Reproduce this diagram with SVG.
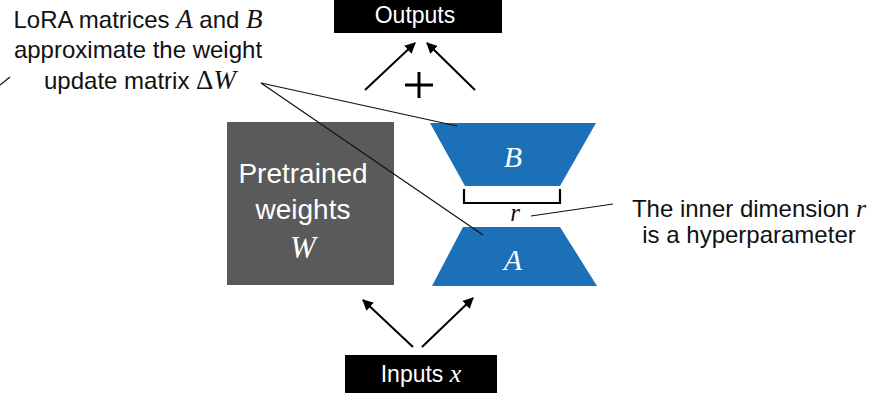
<svg xmlns="http://www.w3.org/2000/svg" width="889" height="398" viewBox="0 0 889 398">
<defs>
<marker id="ah" viewBox="0 0 10 10" refX="9" refY="5" markerWidth="11" markerHeight="11" markerUnits="userSpaceOnUse" orient="auto">
<path d="M0,0 L10,5 L0,10 z" fill="#000"/>
</marker>
<style>
.lbl{font-family:"Liberation Sans",Arial,sans-serif;font-size:24px;fill:#111;text-anchor:middle}
.wht{font-family:"Liberation Sans",Arial,sans-serif;fill:#fff;text-anchor:middle}
.math{font-family:"Liberation Serif","Times New Roman",serif;font-style:italic}
.arr{stroke:#000;stroke-width:2;fill:none;marker-end:url(#ah)}
.thin{stroke:#111;stroke-width:1.2;fill:none}
.blue{fill:#1b70b8}
</style>
</defs>
<rect width="889" height="398" fill="#fff"/>

<g id="outputs">
<rect x="334" y="0" width="168" height="33" fill="#000"/>
<text class="wht" x="415" y="23" font-size="23">Outputs</text>
</g>

<g id="plus">
<path d="M405,85 H433 M419,72 V98" stroke="#000" stroke-width="3"/>
</g>

<g id="pretrained">
<rect x="227" y="122" width="167" height="163" fill="#5a5a5a"/>
<text class="wht" x="303" y="183" font-size="28">Pretrained</text>
<text class="wht" x="303" y="219" font-size="28">weights</text>
<text class="wht math" x="303" y="258" font-size="31">W</text>
</g>

<g id="matrixB">
<polygon class="blue" points="430,123 596,123 560,186 465,186"/>
<text class="wht math" x="513" y="167" font-size="30">B</text>
</g>

<g id="bracket">
<path d="M464,189 V203 H560 V189" stroke="#000" stroke-width="2.2" fill="none"/>
<text class="math" x="515" y="221" font-size="25" fill="#111" text-anchor="middle">r</text>
</g>

<g id="matrixA">
<polygon class="blue" points="463,227 560,227 597,286 432,286"/>
<text class="wht math" x="513" y="270" font-size="30">A</text>
</g>

<g id="inputs">
<rect x="345" y="355" width="152" height="38" fill="#000"/>
<text class="wht" x="421" y="382" font-size="23">Inputs <tspan class="math" font-size="26">x</tspan></text>
</g>

<g id="label-lora">
<text class="lbl" x="138" y="28">LoRA matrices <tspan class="math" font-size="27">A</tspan> and <tspan class="math" font-size="27">B</tspan></text>
<text class="lbl" x="138" y="58">approximate the weight</text>
<text class="lbl" x="140" y="89">update matrix <tspan font-family="Liberation Serif,serif" font-size="27">Δ</tspan><tspan class="math" font-size="27">W</tspan></text>
</g>

<g id="label-r">
<text class="lbl" x="749" y="217">The inner dimension <tspan class="math" font-size="26">r</tspan></text>
<text class="lbl" x="749" y="243">is a hyperparameter</text>
</g>

<g id="connectors">
<line class="arr" x1="365" y1="90" x2="415" y2="43"/>
<line class="arr" x1="475" y1="90" x2="427" y2="43"/>
<line class="arr" x1="413" y1="347" x2="363" y2="300"/>
<line class="arr" x1="422" y1="347" x2="473" y2="298"/>
<polyline class="thin" points="457,126 261,83 483,235"/>
<line class="thin" x1="531" y1="216" x2="613" y2="204"/>
<line class="thin" x1="0" y1="85" x2="10" y2="77"/>
</g>
</svg>
